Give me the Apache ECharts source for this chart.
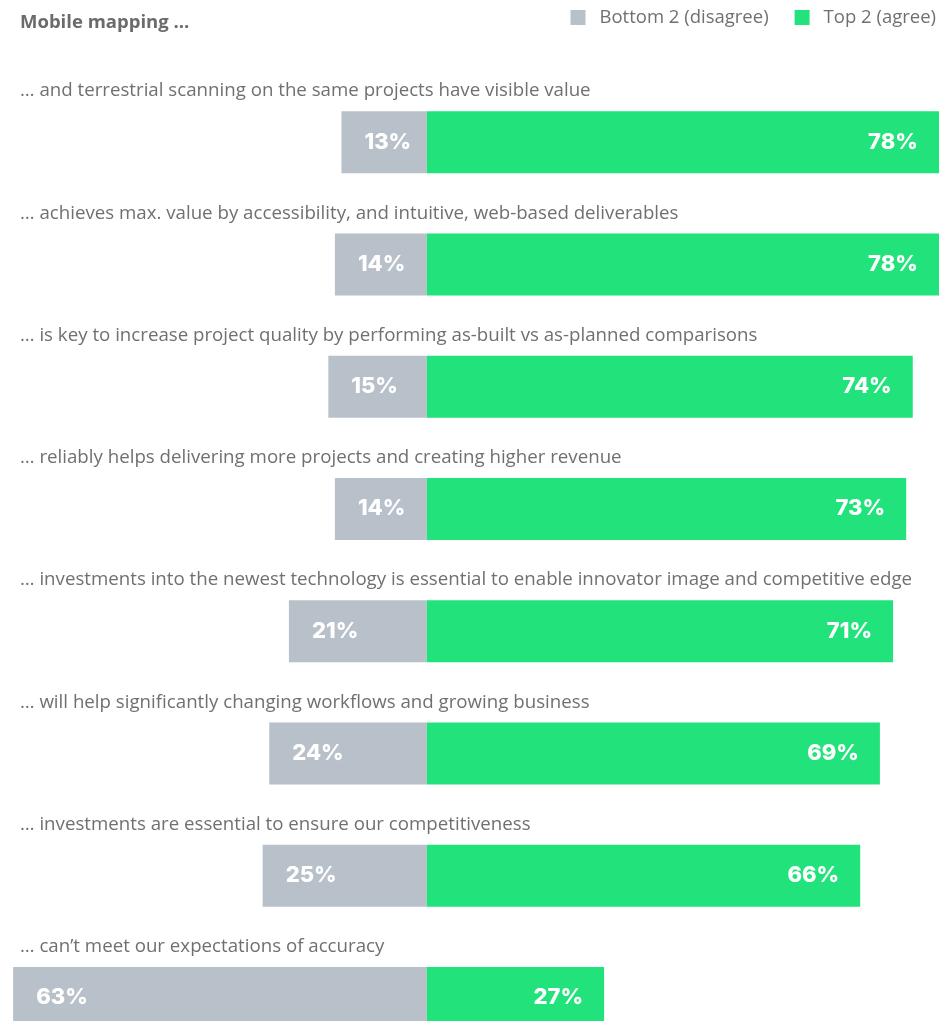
<!DOCTYPE html>
<html>
<head>
<meta charset="utf-8">
<script src="https://cdn.jsdelivr.net/npm/echarts@6/dist/echarts.min.js"></script>
<style>
  html, body { margin: 0; padding: 0; overflow: hidden; background: #fff; }
  #chart { width: 939px; height: 1060px; }
</style>
</head>
<body>
<div id="chart"></div>
<script>
// Survey statements (each continues "Mobile mapping ...")
const statements = [
  '… and terrestrial scanning on the same projects have visible value',
  '… achieves max. value by accessibility, and intuitive, web-based deliverables',
  '… is key to increase project quality by performing as-built vs as-planned comparisons',
  '… reliably helps delivering more projects and creating higher revenue',
  '… investments into the newest technology is essential to enable innovator image and competitive edge',
  '… will help significantly changing workflows and growing business',
  '… investments are essential to ensure our competitiveness',
  '… can’t meet our expectations of accuracy'
];
// Share of respondents, percent
const disagree = [13, 14, 15, 14, 21, 24, 25, 63];
const agree = [78, 78, 74, 73, 71, 69, 66, 27];

const GRAY = '#b8c0ca';
const GREEN = '#22e27c';
const TEXT = '#707070';

const chart = echarts.init(document.getElementById('chart'));

const valueLabel = {
  show: true,
  color: '#ffffff',
  fontFamily: 'Inter',
  fontWeight: 800,
  fontSize: 22,
  distance: 23,
  formatter: p => Math.abs(p.value) + '%'
};

chart.setOption({
  animation: false,
  title: {
    text: 'Mobile mapping ...',
    left: 15,
    top: 8,
    textStyle: { color: '#6b6b6b', fontFamily: 'Open Sans', fontWeight: 'bold', fontSize: 18.5 }
  },
  legend: {
    right: -2,
    top: 3,
    itemWidth: 15,
    itemHeight: 15,
    itemGap: 26,
    icon: 'rect',
    textStyle: { color: TEXT, fontFamily: 'Open Sans', fontSize: 18.5, padding: [0, 0, 0, 9] },
    data: ['Bottom 2 (disagree)', 'Top 2 (agree)']
  },
  grid: { left: 0, right: 0, top: 81, bottom: 1, containLabel: false },
  xAxis: {
    type: 'value',
    min: -65,
    max: 78,
    show: false
  },
  yAxis: {
    type: 'category',
    data: statements,
    inverse: true,
    show: false
  },
  series: [
    {
      name: 'Bottom 2 (disagree)',
      type: 'bar',
      stack: 'total',
      barWidth: 62,
      itemStyle: { color: GRAY },
      label: Object.assign({}, valueLabel, { position: 'insideLeft' }),
      data: disagree.map(v => -v)
    },
    {
      name: 'Top 2 (agree)',
      type: 'bar',
      stack: 'total',
      barWidth: 62,
      itemStyle: { color: GREEN },
      label: Object.assign({}, valueLabel, { position: 'insideRight', distance: 21 }),
      data: agree
    }
  ]
});

// Statement text sits above each bar, aligned to the left margin
chart.setOption({
  graphic: statements.map(s => ({
    type: 'text',
    left: 20,
    y: chart.convertToPixel({ yAxisIndex: 0 }, s) - 51,
    style: {
      text: s,
      fill: TEXT,
      font: '18.7px "Open Sans"',
      verticalAlign: 'middle'
    }
  }))
});
</script>
</body>
</html>
